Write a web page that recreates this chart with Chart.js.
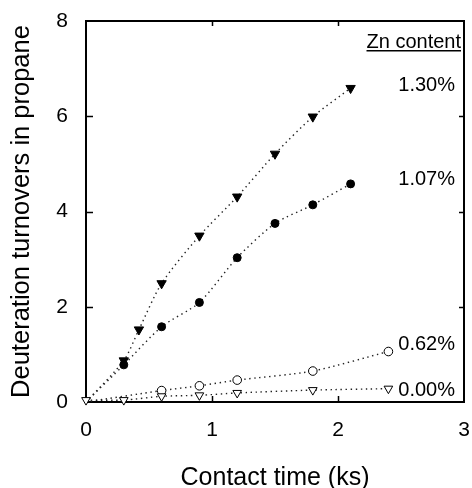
<!DOCTYPE html>
<html>
<head>
<meta charset="utf-8">
<script src="https://cdn.jsdelivr.net/npm/chart.js@4/dist/chart.umd.min.js"></script>
<style>
  html, body { margin: 0; padding: 0; background: #fff; }
</style>
</head>
<body>
<canvas id="chart" width="472" height="488"></canvas>
<script>
// contact time (ks) and deuteration turnovers, one pair of arrays per Zn content
const time130 = [0, 0.3, 0.42, 0.6, 0.9, 1.2, 1.5, 1.8, 2.1];
const zn130 = [0, 0.87, 1.52, 2.49, 3.49, 4.31, 5.21, 5.99, 6.59];
const time107 = [0, 0.3, 0.6, 0.9, 1.2, 1.5, 1.8, 2.1];
const zn107 = [0, 0.78, 1.58, 2.09, 3.03, 3.75, 4.14, 4.58];
const time062 = [0, 0.6, 0.9, 1.2, 1.8, 2.4];
const zn062 = [0, 0.24, 0.34, 0.46, 0.65, 1.06];
const time000 = [0, 0.3, 0.6, 0.9, 1.2, 1.8, 2.4];
const zn000 = [0.04, 0.04, 0.12, 0.14, 0.19, 0.25, 0.28];

const seriesLabels = ['1.30%', '1.07%', '0.62%', '0.00%'];
const legendTitle = 'Zn content';
const xTicks = [0, 1, 2, 3];
const yTicks = [0, 2, 4, 6, 8];

const FONT = '"Liberation Sans", Arial, sans-serif';

const pts = (xs, ys) => xs.map((x, i) => ({ x: x, y: ys[i] }));

const lineStyle = {
  showLine: true,
  fill: false,
  borderColor: '#222',
  borderWidth: 1.4,
  borderDash: [1.4, 3.6],
  tension: 0.25,
  clip: false,
  pointBorderColor: '#000',
  pointBorderWidth: 1,
};

// frame on top/right plus inward ticks on all four sides
const framePlugin = {
  id: 'frame',
  afterDraw(chart) {
    const { ctx, chartArea: a, scales } = chart;
    ctx.save();
    ctx.strokeStyle = '#000';
    ctx.lineWidth = 2;
    ctx.beginPath();
    ctx.moveTo(a.left, a.top);
    ctx.lineTo(a.right, a.top);
    ctx.lineTo(a.right, a.bottom);
    ctx.stroke();
    ctx.lineWidth = 1.5;
    ctx.beginPath();
    scales.x.ticks.forEach(t => {
      if (t.value <= scales.x.min || t.value >= scales.x.max) return;
      const px = Math.round(scales.x.getPixelForValue(t.value)) + 0.5;
      ctx.moveTo(px, a.bottom); ctx.lineTo(px, a.bottom - 6);
      ctx.moveTo(px, a.top); ctx.lineTo(px, a.top + 5);
    });
    scales.y.ticks.forEach(t => {
      if (t.value <= scales.y.min || t.value >= scales.y.max) return;
      const py = Math.round(scales.y.getPixelForValue(t.value)) + 0.5;
      ctx.moveTo(a.left, py); ctx.lineTo(a.left + 7, py);
      ctx.moveTo(a.right, py); ctx.lineTo(a.right - 5, py);
    });
    ctx.stroke();

    // legend heading and series labels
    ctx.fillStyle = '#000';
    ctx.font = '20px ' + FONT;
    ctx.textAlign = 'right';
    ctx.textBaseline = 'alphabetic';
    const hx = a.right - 3, hy = a.top + 27;
    ctx.fillText(legendTitle, hx, hy);
    const w = ctx.measureText(legendTitle).width;
    ctx.fillRect(hx - w, hy + 2, w, 1.5);
    const labelY = [70, 164, 329, 375];
    seriesLabels.forEach((s, i) => ctx.fillText(s, a.right - 9, a.top + labelY[i]));
    ctx.restore();
  }
};

new Chart(document.getElementById('chart'), {
  type: 'scatter',
  data: {
    datasets: [
      Object.assign({}, lineStyle, {
        label: seriesLabels[3],
        data: pts(time000, zn000),
        pointStyle: 'triangle', rotation: 180,
        pointRadius: 5, pointBackgroundColor: '#fff',
      }),
      Object.assign({}, lineStyle, {
        label: seriesLabels[2],
        data: pts(time062, zn062),
        pointStyle: 'circle',
        pointRadius: ctx => ctx.dataIndex === 0 ? 0 : 4.3, pointBackgroundColor: '#fff',
      }),
      Object.assign({}, lineStyle, {
        label: seriesLabels[1],
        data: pts(time107, zn107),
        pointStyle: 'circle',
        pointRadius: ctx => ctx.dataIndex === 0 ? 0 : 4, pointBackgroundColor: '#000',
      }),
      Object.assign({}, lineStyle, {
        label: seriesLabels[0],
        data: pts(time130, zn130),
        pointStyle: 'triangle', rotation: 180,
        pointRadius: ctx => ctx.dataIndex === 0 ? 0 : 5.4, pointBackgroundColor: '#000',
      }),
    ]
  },
  options: {
    responsive: false,
    animation: false,
    devicePixelRatio: 1,
    layout: { padding: { top: 21, right: 8, left: 0, bottom: 0 } },
    plugins: { legend: { display: false }, tooltip: { enabled: false } },
    scales: {
      x: {
        type: 'linear', min: 0, max: 3,
        afterBuildTicks: s => { s.ticks = xTicks.map(v => ({ value: v })); },
        afterFit: s => { s.height = 86; s.paddingLeft = 0; s.paddingRight = 0; },
        ticks: { padding: 16, color: '#000', font: { family: FONT, size: 21 } },
        grid: { drawOnChartArea: false, drawTicks: false },
        border: { display: true, color: '#000', width: 2 },
        title: {
          display: true, text: 'Contact time (ks)', color: '#000',
          font: { family: FONT, size: 25, lineHeight: 0.8 },
          padding: { top: 0, bottom: 0 }
        }
      },
      y: {
        type: 'linear', min: 0, max: 8,
        afterBuildTicks: s => { s.ticks = yTicks.map(v => ({ value: v })); },
        afterFit: s => { s.width = 86; s.paddingTop = 0; s.paddingBottom = 0; },
        ticks: { padding: 18, color: '#000', font: { family: FONT, size: 21 } },
        grid: { drawOnChartArea: false, drawTicks: false },
        border: { display: true, color: '#000', width: 2 },
        title: {
          display: true, text: 'Deuteration turnovers in propane', color: '#000',
          font: { family: FONT, size: 25.5, lineHeight: 1.2 },
          padding: { top: 7, bottom: 0 }
        }
      }
    }
  },
  plugins: [framePlugin]
});
</script>
</body>
</html>
